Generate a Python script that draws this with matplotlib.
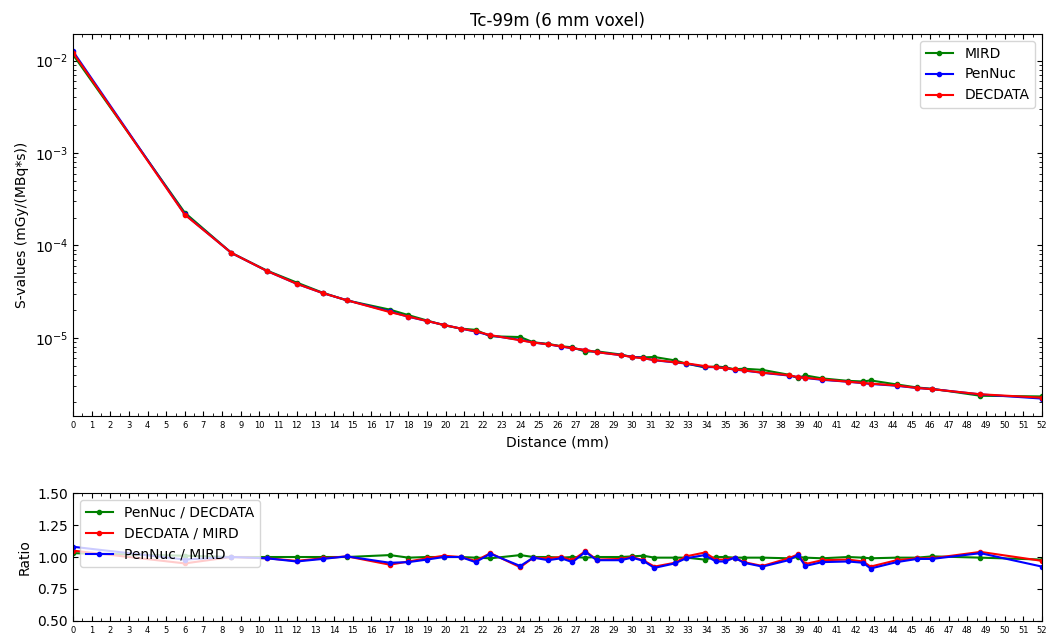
import matplotlib
matplotlib.use("Agg")
import matplotlib.pyplot as plt
import numpy as np

# distances (mm) of the voxel centres
distance = [0, 6, 8.5, 10.4, 12, 13.4, 14.7, 17, 18, 19, 19.9, 20.8, 21.6, 22.4,
            24, 24.7, 25.5, 26.2, 26.8, 27.5, 28.1, 29.4, 30, 30.6, 31.2, 32.3,
            32.9, 33.9, 34.5, 35, 35.5, 36, 37, 38.4, 38.9, 39.3, 40.2, 41.6,
            42.4, 42.8, 44.2, 45.3, 46.1, 48.7, 52]

mird = [1.16e-2, 2.26e-4, 8.3e-5, 5.35e-5, 3.97e-5, 3.08e-5, 2.54e-5, 2.02e-5,
        1.76e-5, 1.54e-5, 1.37e-5, 1.26e-5, 1.22e-5, 1.04e-5, 1.02e-5, 8.95e-6,
        8.6e-6, 8.1e-6, 7.9e-6, 7.08e-6, 7.14e-6, 6.6e-6, 6.2e-6, 6.15e-6,
        6.2e-6, 5.7e-6, 5.27e-6, 4.78e-6, 4.9e-6, 4.8e-6, 4.57e-6, 4.63e-6,
        4.5e-6, 3.99e-6, 3.68e-6, 3.92e-6, 3.64e-6, 3.42e-6, 3.37e-6, 3.46e-6,
        3.13e-6, 2.9e-6, 2.81e-6, 2.36e-6, 2.32e-6]

pennuc = [1.26e-2, 2.17e-4, 8.3e-5, 5.3e-5, 3.85e-5, 3.05e-5, 2.55e-5, 1.93e-5,
          1.69e-5, 1.52e-5, 1.38e-5, 1.26e-5, 1.17e-5, 1.06e-5, 9.5e-6, 8.9e-6,
          8.5e-6, 8.05e-6, 7.7e-6, 7.36e-6, 7.0e-6, 6.5e-6, 6.23e-6, 6.06e-6,
          5.72e-6, 5.42e-6, 5.27e-6, 4.85e-6, 4.8e-6, 4.7e-6, 4.53e-6, 4.43e-6,
          4.18e-6, 3.91e-6, 3.75e-6, 3.68e-6, 3.51e-6, 3.35e-6, 3.23e-6, 3.17e-6,
          3.03e-6, 2.86e-6, 2.79e-6, 2.44e-6, 2.2e-6]

decdata = [1.22e-2, 2.15e-4, 8.3e-5, 5.3e-5, 3.85e-5, 3.05e-5, 2.55e-5, 1.9e-5,
           1.7e-5, 1.52e-5, 1.38e-5, 1.26e-5, 1.18e-5, 1.07e-5, 9.4e-6, 8.9e-6,
           8.5e-6, 8.1e-6, 7.7e-6, 7.4e-6, 7.0e-6, 6.5e-6, 6.2e-6, 6.0e-6,
           5.75e-6, 5.45e-6, 5.3e-6, 4.95e-6, 4.8e-6, 4.7e-6, 4.55e-6, 4.45e-6,
           4.2e-6, 3.95e-6, 3.75e-6, 3.7e-6, 3.55e-6, 3.35e-6, 3.25e-6, 3.2e-6,
           3.05e-6, 2.87e-6, 2.78e-6, 2.45e-6, 2.25e-6]

# ratios
ratio_pen_dec = [1.03, 1.01, 1.0, 1.0, 1.0, 1.0, 1.0, 1.015, 0.995, 1.0, 1.0, 1.0,
                 0.995, 0.99, 1.015, 1.0, 1.0, 0.995, 1.0, 0.995, 1.0, 1.0, 1.005,
                 1.01, 0.995, 0.995, 0.995, 0.98, 1.0, 1.0, 0.995, 0.995, 0.995,
                 0.99, 1.0, 0.995, 0.99, 1.0, 0.995, 0.99, 0.995, 0.995, 1.005,
                 0.995, 0.98]
ratio_dec_mird = [1.05, 0.95, 1.0, 0.99, 0.97, 0.99, 1.005, 0.94, 0.965, 0.99, 1.01,
                  1.0, 0.97, 1.03, 0.92, 0.995, 0.99, 1.0, 0.975, 1.045, 0.98,
                  0.985, 1.0, 0.975, 0.925, 0.955, 1.005, 1.035, 0.98, 0.98, 0.995,
                  0.96, 0.93, 0.99, 1.02, 0.945, 0.975, 0.98, 0.965, 0.925, 0.975,
                  0.99, 0.99, 1.04, 0.97]
ratio_pen_mird = [1.08, 0.98, 1.0, 0.99, 0.965, 0.985, 1.005, 0.955, 0.96, 0.98, 1.0,
                  1.0, 0.96, 1.025, 0.93, 0.995, 0.975, 0.99, 0.96, 1.04, 0.975,
                  0.975, 0.995, 0.97, 0.915, 0.95, 0.99, 1.015, 0.965, 0.965, 0.995,
                  0.955, 0.925, 0.975, 1.015, 0.93, 0.96, 0.965, 0.955, 0.91, 0.96,
                  0.985, 0.985, 1.03, 0.925]

fig = plt.figure(figsize=(10.51, 6.36), dpi=100)
ax1 = fig.add_axes([0.0695, 0.346, 0.9219, 0.6005])
ax2 = fig.add_axes([0.0695, 0.0236, 0.9219, 0.2012])

ax1.plot(distance, mird, color="green", marker=".", ms=6, lw=1.5, label="MIRD")
ax1.plot(distance, pennuc, color="blue", marker=".", ms=6, lw=1.5, label="PenNuc")
ax1.plot(distance, decdata, color="red", marker=".", ms=6, lw=1.5, label="DECDATA")
ax1.set_yscale("log")
ax1.set_title("Tc-99m (6 mm voxel)", fontsize=12)
ax1.set_xlabel("Distance (mm)")
ax1.set_ylabel("S-values (mGy/(MBq*s))")
ax1.legend(loc="upper right")

ax2.plot(distance, ratio_pen_dec, color="green", marker=".", ms=6, lw=1.5, label="PenNuc / DECDATA")
ax2.plot(distance, ratio_dec_mird, color="red", marker=".", ms=6, lw=1.5, label="DECDATA / MIRD")
ax2.plot(distance, ratio_pen_mird, color="blue", marker=".", ms=6, lw=1.5, label="PenNuc / MIRD")
ax2.set_ylim(0.5, 1.5)
ax2.set_yticks([0.5, 0.75, 1.0, 1.25, 1.5])
ax2.set_ylabel("Ratio")
ax2.legend(loc="upper left")

for ax in (ax1, ax2):
    ax.set_xlim(0, 52)
    ax.set_xticks(np.arange(0, 53, 1))
    ax.set_xticks(np.arange(0, 52.5, 0.5), minor=True)
    ax.tick_params(axis="x", which="both", direction="in", top=True, labelsize=6)
    ax.tick_params(axis="y", which="both", direction="in", right=True)

fig.savefig("out.png", dpi=100)
